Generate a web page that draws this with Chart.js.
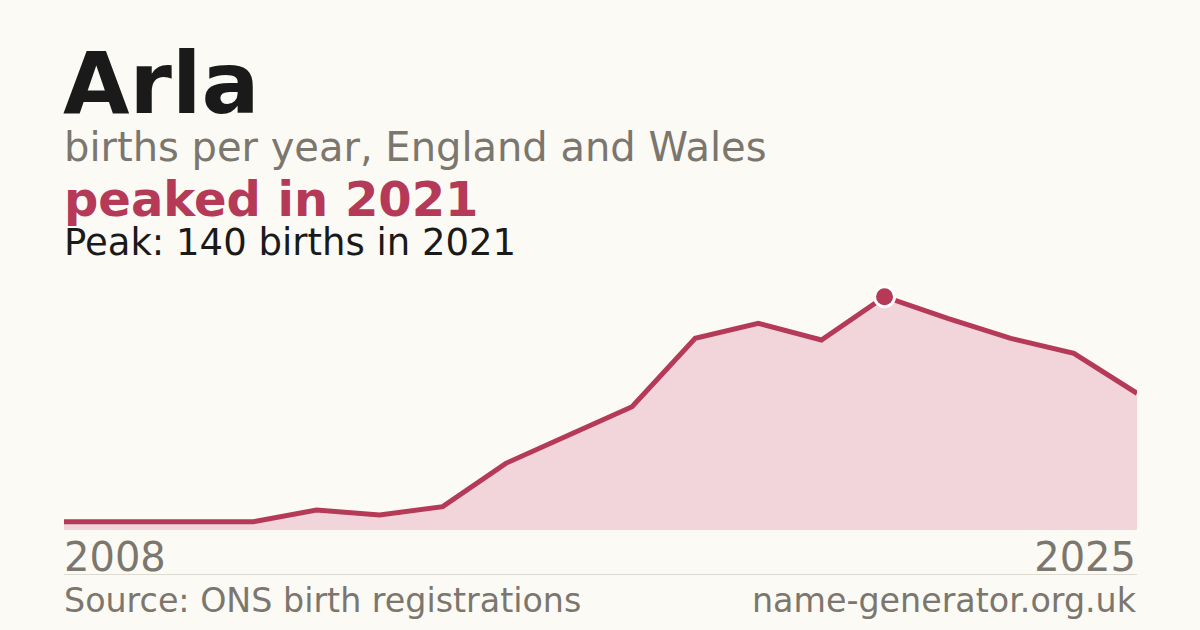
<!DOCTYPE html>
<html>
<head>
<meta charset="utf-8">
<script src="https://cdn.jsdelivr.net/npm/chart.js@4/dist/chart.umd.min.js"></script>
<style>
  html, body { margin:0; padding:0; }
  body { width:1200px; height:630px; background:#fbfaf5; position:relative; overflow:hidden;
         font-family:"DejaVu Sans", sans-serif; }
  .t { position:absolute; line-height:1; white-space:nowrap; margin:0; }
  #title { left:63px; top:40px; font-size:86px; font-weight:bold; color:#1a1a1a; }
  #sub { left:64px; top:127px; font-size:40px; color:#7b766e; }
  #peaked { left:64px; top:175px; font-size:48px; font-weight:bold; color:#b43a58; }
  #peak { left:64px; top:224px; font-size:37px; color:#1a1a1a; }
  #xl { left:64px; top:537px; font-size:40px; color:#7b766e; }
  #xr { right:64px; top:537px; font-size:40px; color:#7b766e; }
  #rule { position:absolute; left:64px; width:1073px; top:574px; height:1px; background:#dddad2; }
  #src { left:64px; top:584px; font-size:33.3px; color:#7b766e; }
  #site { right:64px; top:584px; font-size:33.3px; color:#7b766e; }
  #wrap { position:absolute; left:64px; top:280px; width:1073px; height:250px; }
</style>
</head>
<body>
<div class="t" id="title">Arla</div>
<div class="t" id="sub">births per year, England and Wales</div>
<div class="t" id="peaked">peaked in 2021</div>
<div class="t" id="peak"></div>
<div class="t" id="xl"></div>
<div class="t" id="xr"></div>
<div id="rule"></div>
<div class="t" id="src">Source: ONS birth registrations</div>
<div class="t" id="site">name-generator.org.uk</div>
<div id="wrap"><canvas id="c"></canvas></div>
<script>
const years = ["2008","2009","2010","2011","2012","2013","2014","2015","2016","2017","2018","2019","2020","2021","2022","2023","2024","2025"];
const births = [5, 5, 5, 5, 12, 9, 14, 40, 57, 74, 115, 124, 114, 140, 127, 115, 106, 82];
const tickLabels = [years[0], years[years.length - 1]];

const peakVal = Math.max(...births);
const peakIdx = births.indexOf(peakVal);
document.getElementById('peak').textContent = 'Peak: ' + peakVal + ' births in ' + years[peakIdx];
document.getElementById('xl').textContent = tickLabels[0];
document.getElementById('xr').textContent = tickLabels[1];

const red = '#b43a58';
new Chart(document.getElementById('c'), {
  type: 'line',
  data: {
    labels: years,
    datasets: [{
      data: births,
      borderColor: red,
      borderWidth: 5,
      backgroundColor: '#f2d5db',
      fill: 'origin',
      tension: 0,
      clip: false,
      pointRadius: births.map((v, i) => i === peakIdx ? 10 : 0),
      pointHoverRadius: 0,
      pointBackgroundColor: red,
      pointBorderColor: '#ffffff',
      pointBorderWidth: 3
    }]
  },
  options: {
    responsive: true,
    maintainAspectRatio: false,
    animation: false,
    layout: { padding: 0 },
    plugins: { legend: { display: false }, tooltip: { enabled: false } },
    scales: {
      x: { display: false, offset: false },
      y: { display: false, min: 0, max: 150 }
    }
  }
});
</script>
</body>
</html>
